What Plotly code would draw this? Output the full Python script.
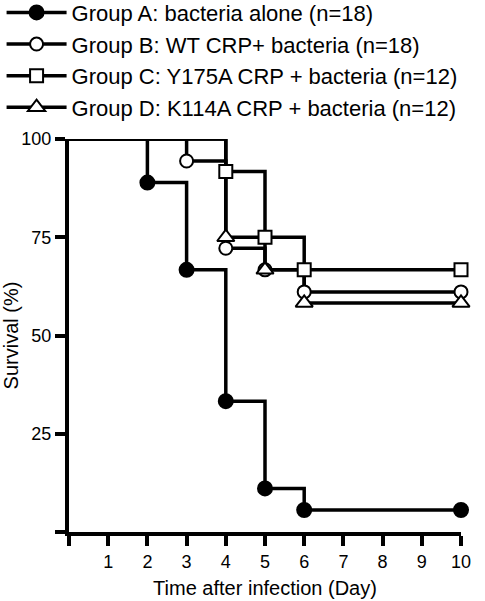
import plotly.graph_objects as go

# Data (Kaplan-Meier survival, %)
days_a = [0, 2, 3, 4, 5, 6, 10]
surv_a = [100, 88.9, 66.7, 33.3, 11.1, 5.6, 5.6]
days_b = [0, 3, 4, 5, 6, 10]
surv_b = [100, 94.4, 72.2, 66.7, 61.1, 61.1]
days_c = [0, 4, 5, 6, 10]
surv_c = [100, 91.7, 75.0, 66.7, 66.7]
days_d = [0, 4, 5, 6, 10]
surv_d = [100, 75.0, 66.7, 58.3, 58.3]

names = ["Group A: bacteria alone (n=18)",
         "Group B: WT CRP+ bacteria (n=18)",
         "Group C: Y175A CRP + bacteria (n=12)",
         "Group D: K114A CRP + bacteria (n=12)"]
symbols = ["circle", "circle", "square", "triangle-up"]
fills = ["black", "white", "white", "white"]
sizes = [14, 13, 13, 15]

x_tickvals = [0, 1, 2, 3, 4, 5, 6, 7, 8, 9, 10]
x_ticktext = ["", "1", "2", "3", "4", "5", "6", "7", "8", "9", "10"]
y_tickvals = [0, 25, 50, 75, 100]
y_ticktext = ["", "25", "50", "75", "100"]

groups = [(days_a, surv_a), (days_b, surv_b), (days_c, surv_c), (days_d, surv_d)]

fig = go.Figure()
for i, (dx, sy) in enumerate(groups):
    fig.add_trace(go.Scatter(x=dx, y=sy, mode="lines", line=dict(shape="hv", color="black", width=3.5),
                             showlegend=False, cliponaxis=False, hoverinfo="skip"))
for i, (dx, sy) in enumerate(groups):
    fig.add_trace(go.Scatter(x=dx[1:], y=sy[1:], mode="markers",
                             marker=dict(symbol=symbols[i], size=sizes[i], color=fills[i],
                                         line=dict(color="black", width=2)),
                             showlegend=False, cliponaxis=False))
for i in range(4):
    fig.add_trace(go.Scatter(x=[None], y=[None], mode="lines+markers", name=names[i],
                             line=dict(color="black", width=3.5),
                             marker=dict(symbol=symbols[i], size=sizes[i], color=fills[i],
                                         line=dict(color="black", width=2))))

font = "Arial, Liberation Sans, sans-serif"
fig.update_layout(
    width=485, height=601,
    margin=dict(l=69, r=24, t=139, b=69, autoexpand=False),
    paper_bgcolor="white", plot_bgcolor="white",
    font=dict(family=font, color="black", size=18),
    showlegend=True,
    legend=dict(x=-0.172, y=1.375, xanchor="left", yanchor="top",
                font=dict(size=22, family=font, color="black"), itemwidth=60,
                bgcolor="rgba(0,0,0,0)", tracegroupgap=0),
    xaxis=dict(range=[0, 10], tickvals=x_tickvals, ticktext=x_ticktext, showline=True,
               linecolor="black", linewidth=4, ticks="outside", ticklen=10, tickwidth=4,
               tickcolor="black", showgrid=False, zeroline=False,
               tickfont=dict(size=18),
               title=dict(text="Time after infection (Day)", font=dict(size=20), standoff=11)),
    yaxis=dict(range=[0, 100], tickvals=y_tickvals, ticktext=y_ticktext, showline=True,
               linecolor="black", linewidth=4, ticks="outside", ticklen=10, tickwidth=4,
               tickcolor="black", showgrid=False, zeroline=False,
               tickfont=dict(size=18),
               title=dict(text="Survival (%)", font=dict(size=20), standoff=9)),
)

fig.write_html("out.html", config={"displayModeBar": False},
               post_script="document.body.style.margin='0';")
